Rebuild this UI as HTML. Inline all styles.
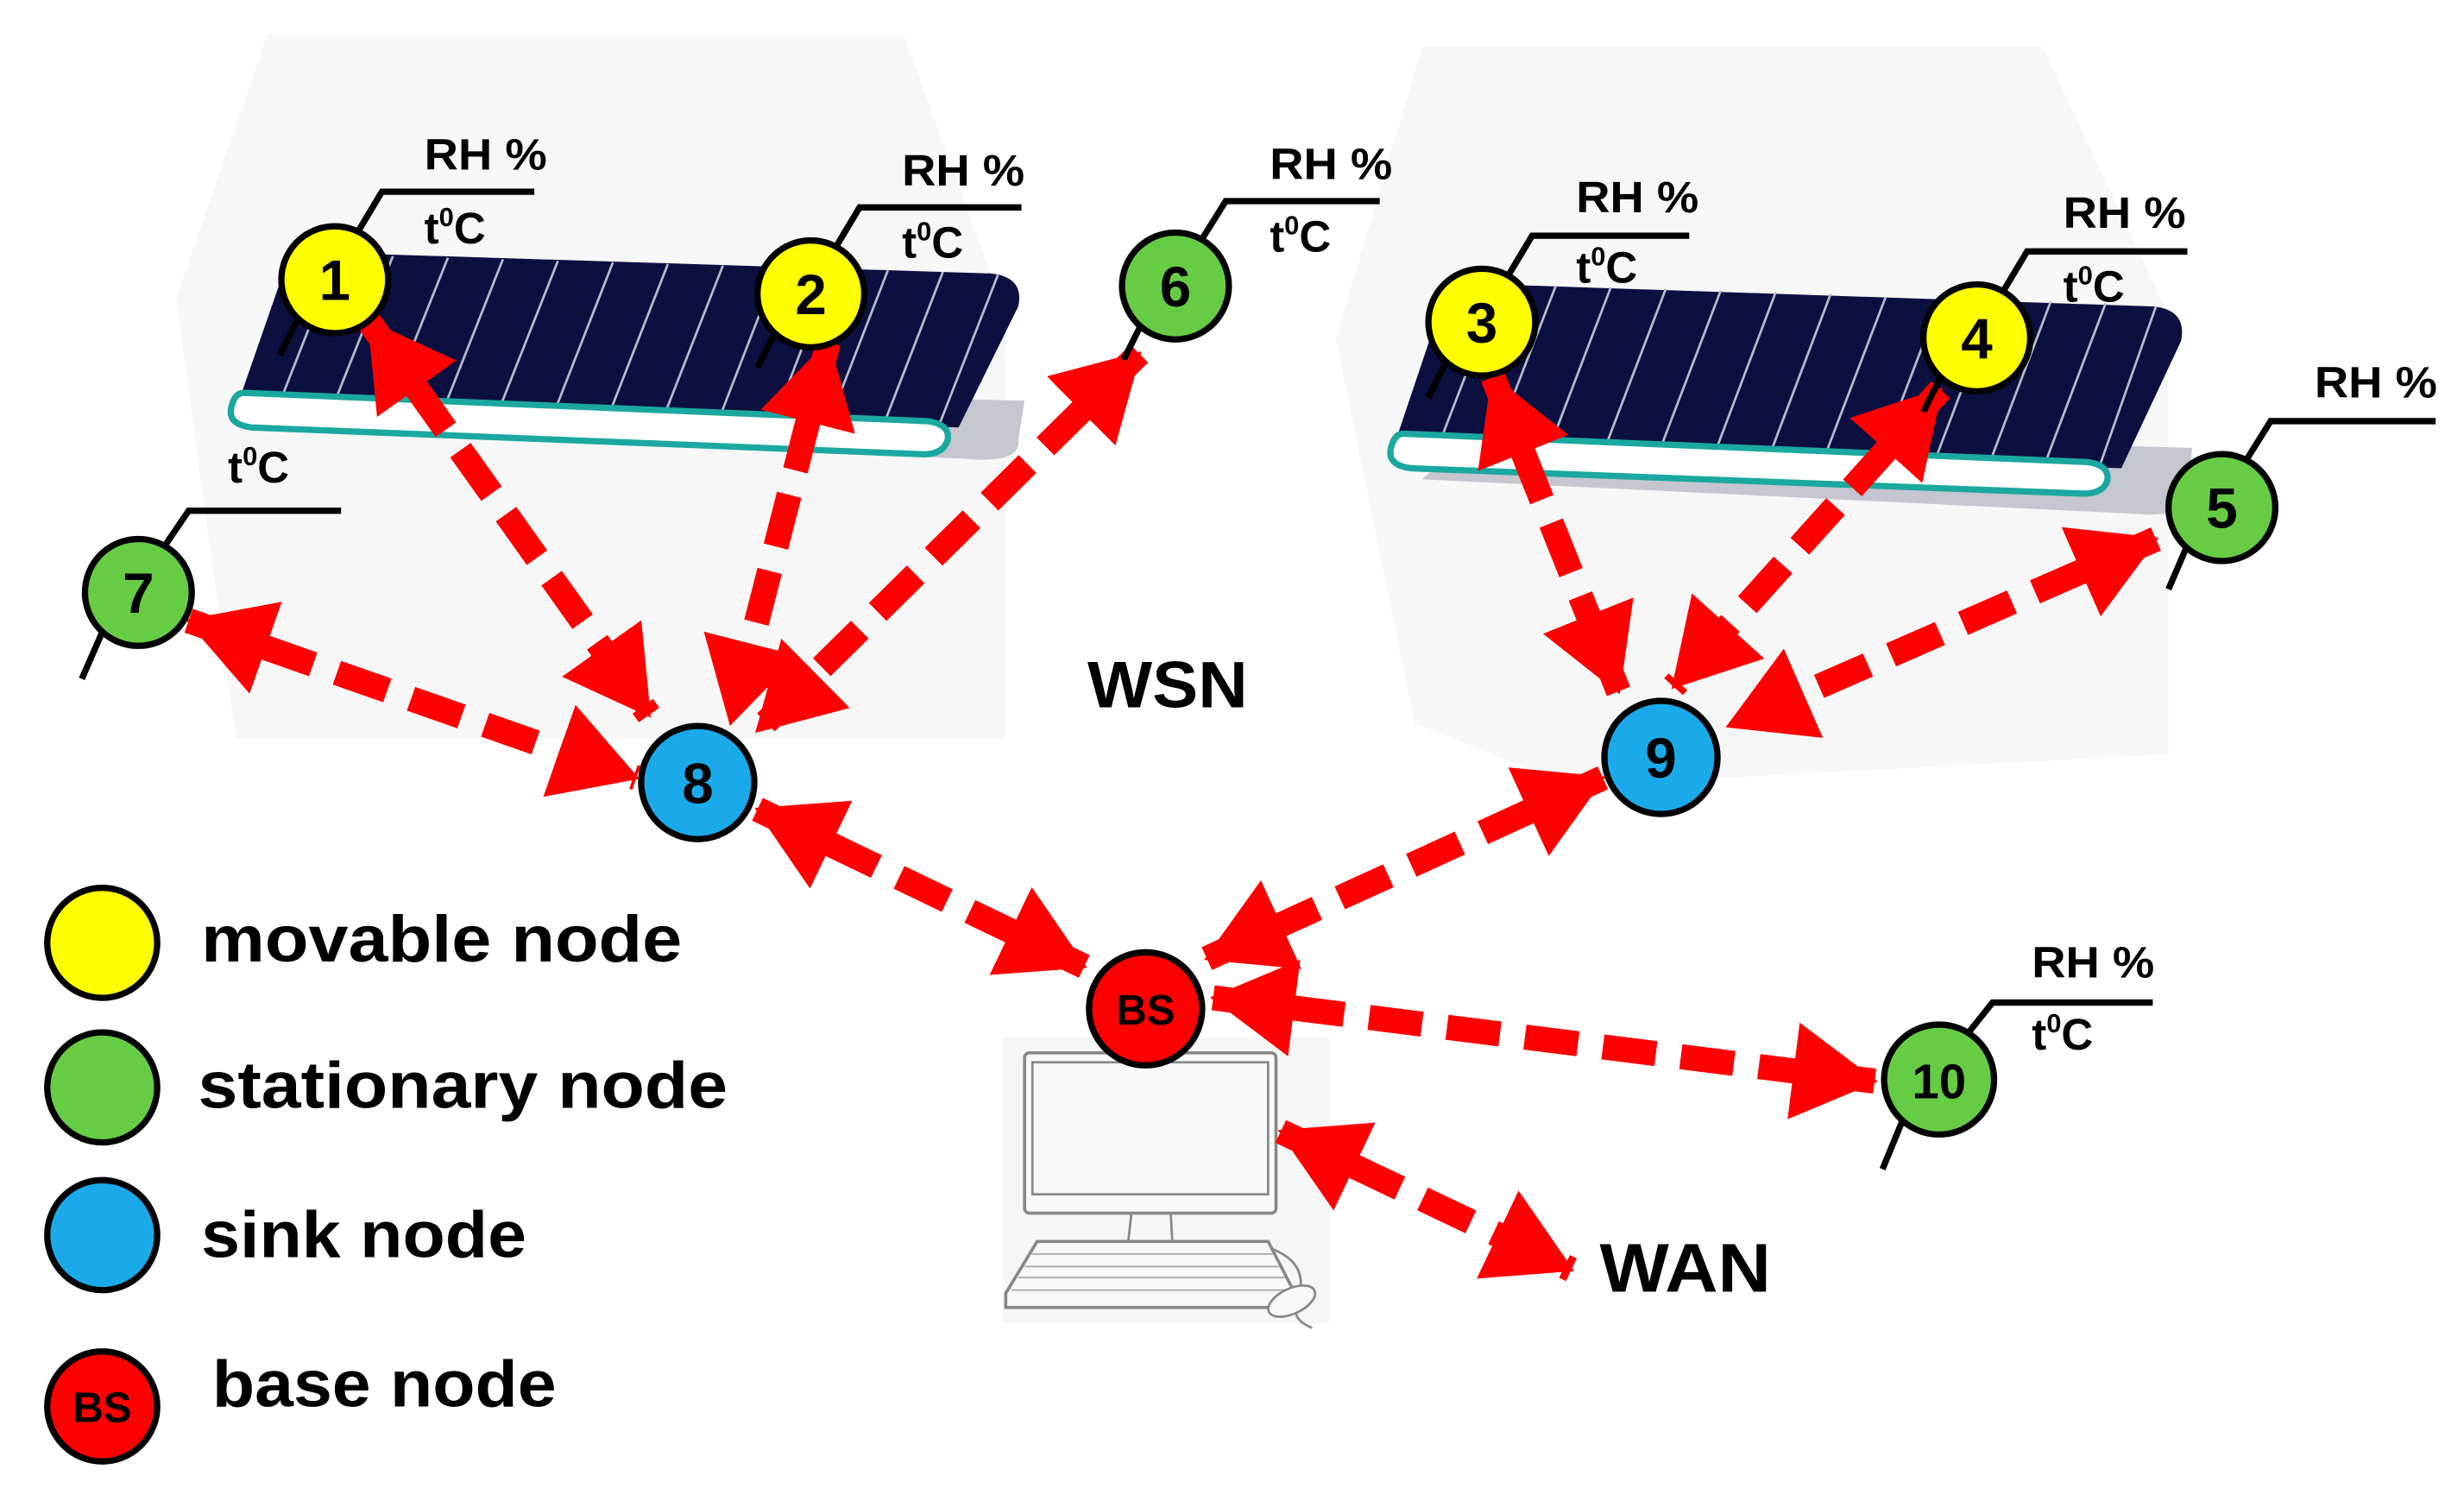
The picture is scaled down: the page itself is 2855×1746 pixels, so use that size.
<!DOCTYPE html>
<html><head><meta charset="utf-8"><style>
html,body{margin:0;padding:0;background:#fff;}
svg{display:block;}
text{font-family:"Liberation Sans",sans-serif;font-weight:bold;fill:#000;}
</style></head><body>
<svg width="2855" height="1746" viewBox="0 0 1568 959" xmlns="http://www.w3.org/2000/svg">
<defs>
<marker id="ah" markerUnits="userSpaceOnUse" markerWidth="58" markerHeight="62" refX="52" refY="31" orient="auto-start-reverse" viewBox="0 0 58 62">
<polygon points="0,0 54,31 0,62" fill="#ff0000"/>
</marker>
</defs>
<!-- background panels -->
<polygon points="112,190 170,22 575,22 640,200 640,470 150,470" fill="#f7f7f8"/>
<polygon points="850,215 905,30 1300,30 1380,200 1380,480 1000,500 900,460" fill="#f7f7f8"/>
<!-- left belt -->
<path d="M160,272 L615,292 Q650,295 648,280 L652,255 L200,245 Z" fill="#c5c6cf"/>
<path d="M185,160 L630,174 Q652,176 648,195 L610,272 L152,255 Z" fill="#0b1040"/>
<g stroke="#b8bccb" stroke-width="1.5">
<line x1="215" y1="162" x2="178" y2="256"/><line x1="250" y1="163" x2="212" y2="258"/><line x1="285" y1="164" x2="247" y2="259"/><line x1="320" y1="165" x2="282" y2="261"/><line x1="355" y1="166" x2="317" y2="262"/><line x1="390" y1="167" x2="352" y2="264"/><line x1="425" y1="168" x2="387" y2="265"/><line x1="460" y1="169" x2="422" y2="266"/><line x1="495" y1="170" x2="457" y2="268"/><line x1="530" y1="171" x2="492" y2="269"/><line x1="565" y1="172" x2="527" y2="270"/><line x1="600" y1="173" x2="562" y2="271"/><line x1="635" y1="175" x2="597" y2="272"/>
</g>
<path d="M155,250 L590,268 Q605,270 603,280 Q600,290 585,289 L160,272 Q145,270 147,260 Q149,250 155,250 Z" fill="#fff" stroke="#1aa8a0" stroke-width="4"/>
<!-- right belt -->
<path d="M905,305 L1360,327 Q1395,330 1393,310 L1395,285 L940,273 Z" fill="#c5c6cf"/>
<path d="M922,180 L1370,195 Q1392,197 1388,217 L1350,298 L888,281 Z" fill="#0b1040"/>
<g stroke="#b8bccb" stroke-width="1.5">
<line x1="955" y1="181" x2="916" y2="282"/><line x1="990" y1="182" x2="951" y2="283"/><line x1="1025" y1="183" x2="986" y2="285"/><line x1="1060" y1="184" x2="1021" y2="286"/><line x1="1095" y1="185" x2="1056" y2="287"/><line x1="1130" y1="186" x2="1091" y2="289"/><line x1="1165" y1="187" x2="1126" y2="290"/><line x1="1200" y1="189" x2="1161" y2="291"/><line x1="1235" y1="190" x2="1196" y2="292"/><line x1="1270" y1="191" x2="1231" y2="294"/><line x1="1305" y1="192" x2="1266" y2="295"/><line x1="1340" y1="193" x2="1301" y2="296"/><line x1="1372" y1="195" x2="1336" y2="297"/>
</g>
<path d="M893,276 L1328,294 Q1343,296 1341,306 Q1338,315 1323,314 L898,298 Q883,296 885,286 Q887,276 893,276 Z" fill="#fff" stroke="#1aa8a0" stroke-width="4"/>
<!-- computer -->
<rect x="638" y="660" width="208" height="182" fill="#f6f6f6"/>
<rect x="652" y="670" width="160" height="102" rx="3" fill="#f9f9f9" stroke="#888" stroke-width="2"/>
<rect x="657" y="676" width="150" height="84" fill="#f8f8f8" stroke="#888" stroke-width="1.5"/>
<line x1="720" y1="772" x2="718" y2="790" stroke="#888" stroke-width="1.5"/><line x1="745" y1="772" x2="746" y2="790" stroke="#888" stroke-width="1.5"/>
<path d="M660,790 L807,790 L824,823 L824,832 L640,832 L640,823 Z" fill="#f8f8f8" stroke="#888" stroke-width="2"/>
<g stroke="#aaa" stroke-width="1"><line x1="656" y1="798" x2="810" y2="798"/><line x1="652" y1="806" x2="814" y2="806"/><line x1="648" y1="813" x2="818" y2="813"/><line x1="644" y1="821" x2="822" y2="821"/></g>
<path d="M810,795 Q835,805 825,830 Q822,840 835,845" fill="none" stroke="#888" stroke-width="1.5"/>
<ellipse cx="822" cy="828" rx="16" ry="8" transform="rotate(-25 822 828)" fill="#f8f8f8" stroke="#888" stroke-width="1.5"/>
<!-- arrows -->
<g stroke="#ff0000" stroke-width="16" stroke-dasharray="34,16" fill="none" marker-start="url(#ah)" marker-end="url(#ah)">
<line x1="235" y1="205" x2="413" y2="455"/>
<line x1="527" y1="218" x2="465" y2="460"/>
<line x1="725" y1="225" x2="482" y2="465"/>
<line x1="120" y1="395" x2="405" y2="495"/>
<line x1="482" y1="515" x2="690" y2="615"/>
<line x1="1020" y1="495" x2="768" y2="610"/>
<line x1="950" y1="240" x2="1030" y2="440"/>
<line x1="1235" y1="248" x2="1065" y2="437"/>
<line x1="1372" y1="343" x2="1100" y2="462"/>
<line x1="772" y1="635" x2="1193" y2="688"/>
<line x1="815" y1="720" x2="1000" y2="808"/>
</g>
<!-- brackets and tails -->
<g stroke="#000" stroke-width="4" fill="none">
<polyline points="228,147 243,122 340,122"/><line x1="190" y1="202" x2="178" y2="226"/>
<polyline points="532,157 547,132 650,132"/><line x1="494" y1="210" x2="482" y2="234"/>
<polyline points="765,152 780,128 878,128"/><line x1="727" y1="205" x2="715" y2="229"/>
<polyline points="960,175 975,150 1075,150"/><line x1="921" y1="229" x2="909" y2="253"/>
<polyline points="1275,185 1290,160 1392,160"/><line x1="1236" y1="238" x2="1224" y2="262"/>
<polyline points="1430,292 1445,268 1550,268"/><line x1="1392" y1="347" x2="1380" y2="375"/>
<polyline points="105,347 120,325 217,325"/><line x1="66" y1="400" x2="52" y2="432"/>
<polyline points="1252,658 1268,638 1370,638"/><line x1="1212" y1="710" x2="1198" y2="744"/>
</g>
<!-- nodes -->
<g stroke="#000" stroke-width="4">
<circle cx="213" cy="178" r="34" fill="#ffff00"/>
<circle cx="516" cy="187" r="34" fill="#ffff00"/>
<circle cx="748" cy="182" r="34" fill="#66cc44"/>
<circle cx="943" cy="205" r="34" fill="#ffff00"/>
<circle cx="1258" cy="215" r="34" fill="#ffff00"/>
<circle cx="1414" cy="323" r="34" fill="#66cc44"/>
<circle cx="88" cy="377" r="34" fill="#66cc44"/>
<circle cx="444" cy="498" r="36" fill="#1aaaea"/>
<circle cx="1057" cy="482" r="36" fill="#1aaaea"/>
<circle cx="729" cy="642" r="36" fill="#ff0000"/>
<circle cx="1234" cy="687" r="35" fill="#66cc44"/>
<circle cx="65" cy="600" r="35" fill="#ffff00"/>
<circle cx="65" cy="692" r="35" fill="#66cc44"/>
<circle cx="65" cy="786" r="35" fill="#1aaaea"/>
<circle cx="65" cy="895" r="35" fill="#ff0000"/>
</g>
<g font-size="36" text-anchor="middle">
<text x="213" y="191">1</text><text x="516" y="200">2</text><text x="748" y="195">6</text>
<text x="943" y="218">3</text><text x="1258" y="228">4</text><text x="1414" y="336">5</text>
<text x="88" y="390">7</text><text x="444" y="511">8</text><text x="1057" y="495">9</text>
<text x="1234" y="699" font-size="31">10</text>
<text x="729" y="652" font-size="27">BS</text><text x="65" y="905" font-size="27">BS</text>
</g>
<g font-size="28">
<text x="270" y="108" textLength="78" lengthAdjust="spacingAndGlyphs">RH %</text><text x="270" y="155">t<tspan font-size="17" dy="-11">0</tspan><tspan dy="11">C</tspan></text>
<text x="574" y="118" textLength="78" lengthAdjust="spacingAndGlyphs">RH %</text><text x="574" y="164">t<tspan font-size="17" dy="-11">0</tspan><tspan dy="11">C</tspan></text>
<text x="808" y="114" textLength="78" lengthAdjust="spacingAndGlyphs">RH %</text><text x="808" y="160">t<tspan font-size="17" dy="-11">0</tspan><tspan dy="11">C</tspan></text>
<text x="1003" y="135" textLength="78" lengthAdjust="spacingAndGlyphs">RH %</text><text x="1003" y="180">t<tspan font-size="17" dy="-11">0</tspan><tspan dy="11">C</tspan></text>
<text x="1313" y="145" textLength="78" lengthAdjust="spacingAndGlyphs">RH %</text><text x="1313" y="192">t<tspan font-size="17" dy="-11">0</tspan><tspan dy="11">C</tspan></text>
<text x="1473" y="253" textLength="78" lengthAdjust="spacingAndGlyphs">RH %</text>
<text x="145" y="307">t<tspan font-size="17" dy="-11">0</tspan><tspan dy="11">C</tspan></text>
<text x="1293" y="622" textLength="78" lengthAdjust="spacingAndGlyphs">RH %</text><text x="1293" y="668">t<tspan font-size="17" dy="-11">0</tspan><tspan dy="11">C</tspan></text>
</g>
<text x="692" y="450" font-size="42" textLength="102" lengthAdjust="spacingAndGlyphs">WSN</text>
<text x="1018" y="822" font-size="44" textLength="109" lengthAdjust="spacingAndGlyphs">WAN</text>
<g font-size="42">
<text x="128" y="612" textLength="306" lengthAdjust="spacingAndGlyphs">movable node</text>
<text x="126" y="705" textLength="337" lengthAdjust="spacingAndGlyphs">stationary node</text>
<text x="128" y="800" textLength="207" lengthAdjust="spacingAndGlyphs">sink node</text>
<text x="135" y="895" textLength="219" lengthAdjust="spacingAndGlyphs">base node</text>
</g>
</svg>
</body></html>
